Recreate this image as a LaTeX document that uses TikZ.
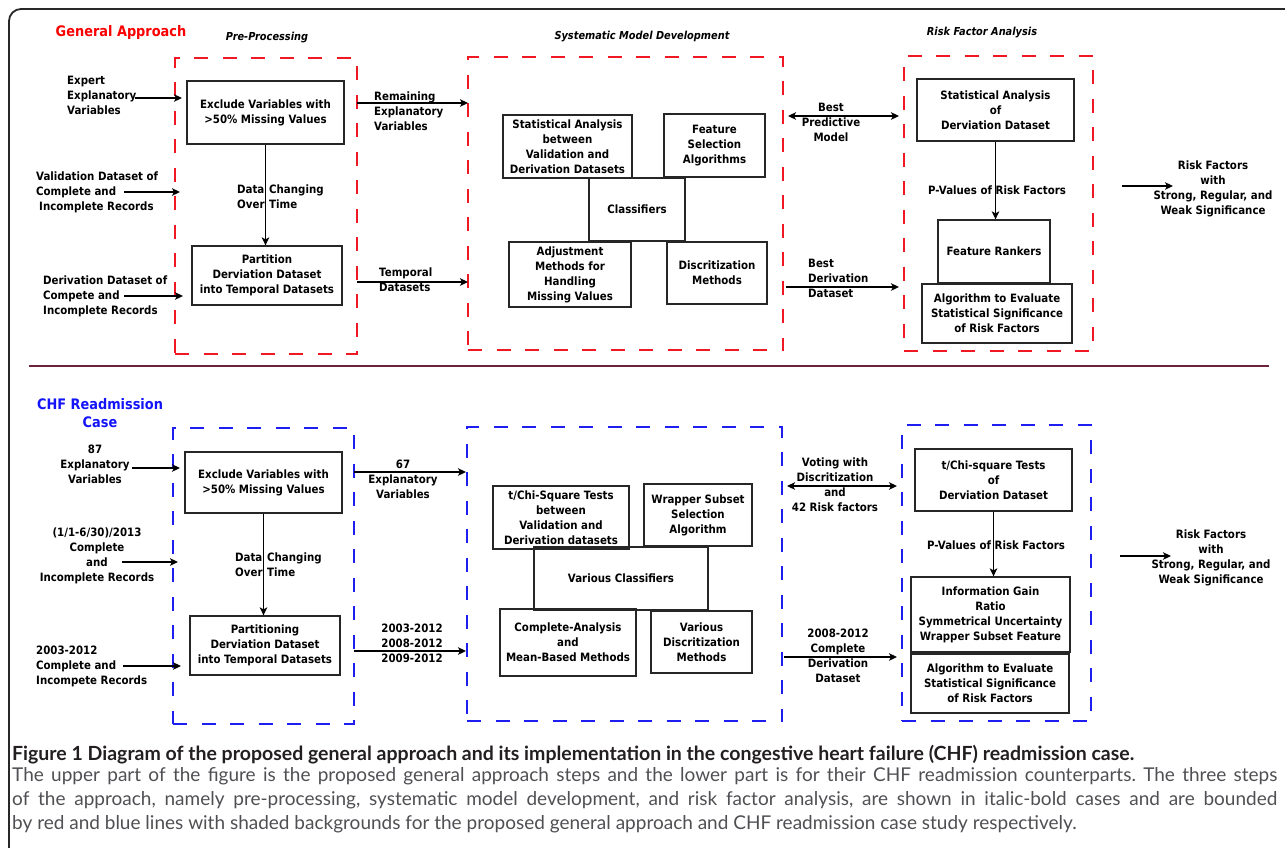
\documentclass[tikz,border=0pt]{standalone}
\usepackage{fontspec}
\setmainfont{Lato}
\newfontfamily\dg[FakeStretch=0.89]{DejaVu Sans}
\usetikzlibrary{arrows.meta}
\definecolor{dred}{RGB}{240,25,35}
\definecolor{dblue}{RGB}{30,30,240}
\definecolor{tred}{RGB}{250,0,0}
\definecolor{tblue}{RGB}{20,20,250}
\definecolor{sepcol}{RGB}{110,35,60}
\definecolor{capgray}{RGB}{80,80,84}
\definecolor{capdark}{RGB}{35,31,32}
\definecolor{framecol}{RGB}{40,40,40}
\frenchspacing
\begin{document}
\begin{tikzpicture}[x=1pt,y=-1pt,
  every node/.style={font=\dg\bfseries\fontsize{11.5}{15}\selectfont},
  box/.style={draw=black!85, line width=1.3pt, inner sep=0pt, align=center},
  txt/.style={inner sep=0pt, align=center},
  ltxt/.style={inner sep=0pt, align=left, anchor=west},
  grp/.style={line width=1.6pt, dash pattern=on 14pt off 14.5pt, inner sep=0pt},
  rgrp/.style={grp, draw=dred},
  bgrp/.style={grp, draw=dblue},
  arr/.style={line width=1.3pt, -{Stealth[length=8pt,width=7.5pt,inset=2pt]}},
  darr/.style={line width=1.3pt, {Stealth[length=8pt,width=7.5pt,inset=2pt]}-{Stealth[length=8pt,width=7.5pt,inset=2pt]}},
  steptitle/.style={inner sep=0pt, font=\dg\bfseries\itshape\fontsize{11}{15}\selectfont},
  title/.style={inner sep=0pt, align=center, font=\dg\bfseries\fontsize{14.5}{18}\selectfont},
]
\useasboundingbox (0,0) rectangle (1285,847);
\fill[white] (0,0) rectangle (1285,847);
% frame
\draw[framecol, line width=1.8pt, rounded corners=12pt] (9,900) -- (9,9) -- (1400,9);
% separator
\draw[sepcol, line width=1.5pt] (29,366) -- (1269,366);

% titles
\node[title, text=tred] (tga) at (121,32) {General Approach};
\node[title, text=tblue] (tchf) at (100,413) {CHF Readmission\\Case};
\node[steptitle] (tpp) at (267,38) {Pre-Processing};
\node[steptitle] (tsmd) at (642,37) {Systematic Model Development};
\node[steptitle] (trfa) at (982,33) {Risk Factor Analysis};

% group boxes
\node[rgrp, minimum width=182, minimum height=296] (R1) at (266,206) {};
\node[rgrp, minimum width=315, minimum height=293] (R2) at (625.5,203.5) {};
\node[rgrp, minimum width=189, minimum height=295] (R3) at (998.5,203.5) {};
\node[bgrp, minimum width=181, minimum height=296] (B1) at (263.5,576) {};
\node[bgrp, minimum width=315, minimum height=294] (B2) at (624.5,574) {};
\node[bgrp, minimum width=189, minimum height=296] (B3) at (996.5,573) {};

% upper boxes
\node[box, minimum width=157, minimum height=63] (ex1) at (265.5,112.5) {Exclude Variables with\\>50\% Missing Values};
\node[box, minimum width=150, minimum height=59] (part1) at (267,275.5) {Partition\\Derviation Dataset\\into Temporal Datasets};
\node[box, minimum width=129, minimum height=63] (sa1) at (567.5,146.5) {Statistical Analysis\\between\\Validation and\\Derivation Datasets};
\node[box, minimum width=101, minimum height=63] (fs1) at (714.5,145.5) {Feature\\Selection\\Algorithms};
\node[box, minimum width=96, minimum height=63] (cl1) at (637,209.5) {Classifiers};
\node[box, minimum width=122, minimum height=65] (adj1) at (570,274.5) {Adjustment\\Methods for\\Handling\\Missing Values};
\node[box, minimum width=100, minimum height=62] (dis1) at (717,273) {Discritization\\Methods};
\node[box, minimum width=157, minimum height=62] (sad1) at (995.5,110) {Statistical Analysis\\of\\Derviation Dataset};
\node[box, minimum width=112, minimum height=63] (fr1) at (994,251.5) {Feature Rankers};
\node[box, minimum width=150, minimum height=59] (alg1) at (997,313.5) {Algorithm to Evaluate\\Statistical Significance\\of Risk Factors};

% lower boxes
\node[box, minimum width=157, minimum height=61] (ex2) at (263.5,482.5) {Exclude Variables with\\>50\% Missing Values};
\node[box, minimum width=150, minimum height=59] (part2) at (265,645.5) {Partitioning\\Derviation Dataset\\into Temporal Datasets};
\node[box, minimum width=136, minimum height=63] (tc2) at (561,517.5) {t/Chi-Square Tests\\between\\Validation and\\Derivation datasets};
\node[box, minimum width=108, minimum height=62] (wr2) at (698,515) {Wrapper Subset\\Selection\\Algorithm};
\node[box, minimum width=174, minimum height=63] (vc2) at (621,578.5) {Various Classifiers};
\node[box, minimum width=136, minimum height=67] (ca2) at (568,642.5) {Complete-Analysis\\and\\Mean-Based Methods};
\node[box, minimum width=101, minimum height=62] (vd2) at (701.5,642) {Various\\Discritization\\Methods};
\node[box, minimum width=157, minimum height=62] (tcd2) at (993.5,480) {t/Chi-square Tests\\of\\Derviation Dataset};
\node[box, minimum width=159, minimum height=75] (ig2) at (990.5,614.5) {Information Gain\\Ratio\\Symmetrical Uncertainty\\Wrapper Subset Feature};
\node[box, minimum width=158, minimum height=59] (alg2) at (990,683.5) {Algorithm to Evaluate\\Statistical Significance\\of Risk Factors};

% upper free texts
\node[ltxt] (texp) at (67,95) {Expert\\Explanatory\\Variables};
\node[ltxt] (tval) at (36,192) {Validation Dataset of\\Complete and\\\hspace*{3pt}Incomplete Records};
\node[ltxt] (tder) at (43,296) {Derivation Dataset of\\Compete and\\Incomplete Records};
\node[ltxt] (tdc1) at (237,196.5) {\makebox[32pt][l]{Data}Changing\\\makebox[32pt][l]{Over}Time};
\node[ltxt] (trem) at (374,111) {Remaining\\Explanatory\\Variables};
\node[ltxt] (ttemp) at (379,279.5) {Temporal\\Datasets};
\node[txt] (tbpm) at (831,122) {Best\\Predictive\\Model};
\node[ltxt] (tbdd) at (808,278) {Best\\Derivation\\Dataset};
\node[txt] (tpv1) at (997,190) {P-Values of Risk Factors};
\node[txt] (tout1) at (1213,188.5) {Risk Factors\\with\\Strong, Regular, and\\Weak Significance};

% lower free texts
\node[txt] (t87) at (95,464) {87\\Explanatory\\Variables};
\node[txt] (t2013) at (97,555.5) {(1/1-6/30)/2013\\Complete\\and\\Incomplete Records};
\node[ltxt] (t0312) at (36,666) {2003-2012\\Complete and\\Incompete Records};
\node[ltxt] (tdc2) at (235,565) {\makebox[32pt][l]{Data}Changing\\\makebox[32pt][l]{Over}Time};
\node[txt] (t67) at (403,479) {67\\Explanatory\\Variables};
\node[txt] (tyrs) at (412,643) {2003-2012\\2008-2012\\2009-2012};
\node[txt] (tvote) at (835,485) {Voting with\\Discritization\\and\\42 Risk factors};
\node[txt] (t08) at (838,655.5) {2008-2012\\Complete\\Derivation\\Dataset};
\node[txt] (tpv2) at (996,545) {P-Values of Risk Factors};
\node[txt] (tout2) at (1211,557.5) {Risk Factors\\with\\Strong, Regular, and\\Weak Significance};

% connector end points
\coordinate (u1s) at (135,98);   \coordinate (u1e) at (182,98);
\coordinate (u2s) at (124,192);  \coordinate (u2e) at (180,192);
\coordinate (u3s) at (124,296);  \coordinate (u3e) at (183,296);
\coordinate (u4s) at (357,103);  \coordinate (u4e) at (468,103);
\coordinate (u5s) at (357,282);  \coordinate (u5e) at (468,282);
\coordinate (u6s) at (788,116);  \coordinate (u6e) at (899,116);
\coordinate (u7s) at (786,287);  \coordinate (u7e) at (899,287);
\coordinate (u8s) at (1122,186); \coordinate (u8e) at (1173,186);
\coordinate (l1s) at (132,468);  \coordinate (l1e) at (180,468);
\coordinate (l2s) at (122,562);  \coordinate (l2e) at (178,562);
\coordinate (l3s) at (123,666);  \coordinate (l3e) at (181,666);
\coordinate (l4s) at (354,472);  \coordinate (l4e) at (466,472);
\coordinate (l5s) at (354,651);  \coordinate (l5e) at (466,651);
\coordinate (l6s) at (787,486);  \coordinate (l6e) at (897,486);
\coordinate (l7s) at (784,657);  \coordinate (l7e) at (897,657);
\coordinate (l8s) at (1120,556); \coordinate (l8e) at (1171,556);

% connectors
\draw[arr] (u1s) -- (u1e);
\draw[arr] (u2s) -- (u2e);
\draw[arr] (u3s) -- (u3e);
\draw[arr] (ex1.south) -- (ex1.south |- part1.north);
\draw[arr] (u4s) -- (u4e);
\draw[arr] (u5s) -- (u5e);
\draw[darr] (u6s) -- (u6e);
\draw[arr] (u7s) -- (u7e);
\draw[arr] (sad1.south) -- (sad1.south |- fr1.north);
\draw[arr] (u8s) -- (u8e);
\draw[arr] (l1s) -- (l1e);
\draw[arr] (l2s) -- (l2e);
\draw[arr] (l3s) -- (l3e);
\draw[arr] (ex2.south) -- (ex2.south |- part2.north);
\draw[arr] (l4s) -- (l4e);
\draw[arr] (l5s) -- (l5e);
\draw[darr] (l6s) -- (l6e);
\draw[arr] (l7s) -- (l7e);
\draw[arr] (tcd2.south) -- (tcd2.south |- ig2.north);
\draw[arr] (l8s) -- (l8e);

% caption
\node[anchor=north west, inner sep=0pt, text width=1265pt, align=justify,
      font=\fontsize{19}{24}\selectfont] (cap) at (12,745)
 {\textcolor{capdark}{\fontsize{19.5}{24}\selectfont\bfseries Figure 1 Diagram of the proposed general approach and its implementation in the congestive heart failure (CHF) readmission case.}\\[-3pt]
  \textcolor{capgray}{The upper part of the figure is the proposed general approach steps and the lower part is for their CHF readmission counterparts. The three steps\linebreak
  of the approach, namely pre-processing, systematic model development, and risk factor analysis, are shown in italic-bold cases and are bounded\linebreak
  by red and blue lines with shaded backgrounds for the proposed general approach and CHF readmission case study respectively.}};
\end{tikzpicture}
\end{document}
